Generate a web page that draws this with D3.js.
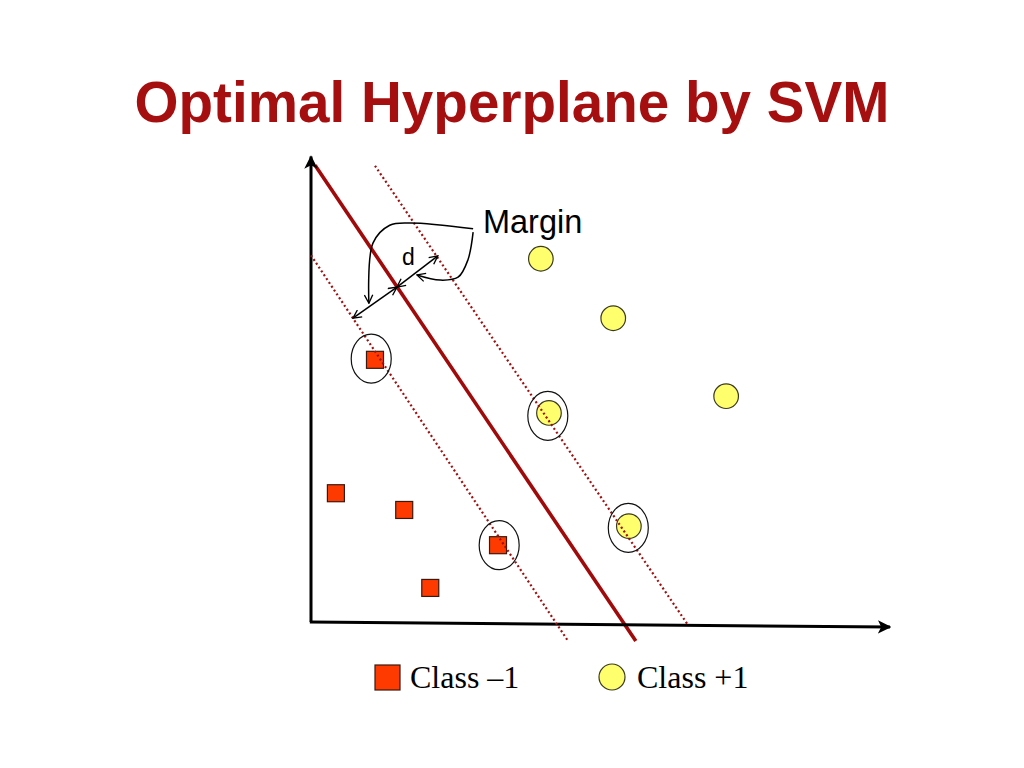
<!DOCTYPE html>
<html>
<head>
<meta charset="utf-8">
<script src="https://cdn.jsdelivr.net/npm/d3@7"></script>
<style>
  html, body { margin: 0; padding: 0; background: #fff; }
  svg { display: block; }
</style>
</head>
<body>
<svg id="chart" width="1024" height="768"></svg>
<script>
// ---- data (abstract feature-space units) ----
const classNeg = [ // Class -1 squares [x, y]
  [11.05, 45.4], [4.3, 22.3], [16.1, 19.4], [32.3, 13.3], [20.6, 5.9]
];
const classPos = [ // Class +1 circles [x, y]
  [39.7, 62.9], [52.2, 52.6], [71.7, 39.1], [41.1, 36.2], [54.9, 16.6]
];
const supportVectors = [ // ellipse centres
  [10.4, 45.6], [32.5, 13.3], [40.9, 35.7], [54.8, 16.3]
];
const hyperplane = [[0.7, 79.1], [56.1, -3.3]];
const marginNeg = [[0.0, 63.5], [44.4, -3.3]];
const marginPos = [[11.05, 79.0], [65.1, -0.5]];
const arrowLeft = [[7.25, 52.6], [14.85, 58.0]];
const arrowRight = [[14.85, 58.0], [21.9, 63.4]];
const braceLeft = [[10.0, 55.2], [10.7, 65.6], [13.6, 68.7], [17.1, 69.1], [28.0, 68.1]];
const braceRight = [[28.0, 67.5], [27.1, 62.7], [25.4, 59.7], [22.3, 59.2], [18.3, 60.1]];
const labels = { title: "Optimal Hyperplane by SVM", margin: "Margin", d: "d", neg: "Class \u20131", pos: "Class +1" };
const labelPos = { margin: [29.7, 67.4], d: [15.7, 61.8] };

// ---- scales ----
const x = d3.scaleLinear().domain([0, 100]).range([311, 890]);
const y = d3.scaleLinear().domain([0, 80]).range([622, 160]);

const svg = d3.select("#chart");
const defs = svg.append("defs");
defs.append("marker").attr("id", "axisArrow")
  .attr("viewBox", "0 0 10 10").attr("refX", 9).attr("refY", 5)
  .attr("markerWidth", 4.5).attr("markerHeight", 4.5).attr("orient", "auto")
  .attr("markerUnits", "strokeWidth")
  .append("path").attr("d", "M0,0 L10,5 L0,10 L2.5,5 Z").attr("fill", "#000");
defs.append("marker").attr("id", "vArrow")
  .attr("viewBox", "0 0 12 12").attr("refX", 11).attr("refY", 6)
  .attr("markerWidth", 10).attr("markerHeight", 10).attr("orient", "auto-start-reverse")
  .attr("markerUnits", "userSpaceOnUse")
  .append("path").attr("d", "M1,1 L11,6 L1,11").attr("fill", "none")
  .attr("stroke", "#000").attr("stroke-width", 1.6);

// title
svg.append("text").attr("x", 512).attr("y", 122).attr("text-anchor", "middle")
  .attr("font-family", "'Liberation Sans', Arial, Helvetica, sans-serif")
  .attr("font-weight", "bold").attr("font-size", 58).attr("fill", "#a50f0f")
  .attr("textLength", 755).attr("lengthAdjust", "spacingAndGlyphs")
  .text(labels.title);

const line = d3.line().x(d => x(d[0])).y(d => y(d[1]));

// hyperplane
svg.append("path").attr("d", line(hyperplane)).attr("fill", "none")
  .attr("stroke", "#a00a0a").attr("stroke-width", 3.6);

// axes
svg.append("path").attr("d", line([[0, 0], [0, 80.6]])).attr("fill", "none")
  .attr("stroke", "#000").attr("stroke-width", 3).attr("marker-end", "url(#axisArrow)");
svg.append("path").attr("d", line([[-0.2, 0], [100, -0.87]])).attr("fill", "none")
  .attr("stroke", "#000").attr("stroke-width", 3).attr("marker-end", "url(#axisArrow)");

// points
const sq = 17;
svg.selectAll("rect.neg").data(classNeg).join("rect").attr("class", "neg")
  .attr("x", d => x(d[0]) - sq / 2).attr("y", d => y(d[1]) - sq / 2)
  .attr("width", sq).attr("height", sq)
  .attr("fill", "#ff3a00").attr("stroke", "#3a1a10").attr("stroke-width", 1.2);
svg.selectAll("circle.pos").data(classPos).join("circle").attr("class", "pos")
  .attr("cx", d => x(d[0])).attr("cy", d => y(d[1])).attr("r", 12.3)
  .attr("fill", "#ffff6e").attr("stroke", "#3a3a20").attr("stroke-width", 1.2);

// dotted margin lines (drawn over the support vectors)
[marginNeg, marginPos].forEach(seg => {
  svg.append("path").attr("d", line(seg)).attr("fill", "none")
    .attr("stroke", "#a01010").attr("stroke-width", 2.2)
    .attr("stroke-dasharray", "2,2.6");
});

// support vector ellipses
svg.selectAll("ellipse.sv").data(supportVectors).join("ellipse").attr("class", "sv")
  .attr("cx", d => x(d[0])).attr("cy", d => y(d[1]))
  .attr("rx", 20).attr("ry", 24.5)
  .attr("fill", "none").attr("stroke", "#111").attr("stroke-width", 1.2);

// margin annotation arrows
[arrowLeft, arrowRight].forEach(seg => {
  svg.append("path").attr("d", line(seg)).attr("fill", "none")
    .attr("stroke", "#000").attr("stroke-width", 1.5)
    .attr("marker-start", "url(#vArrow)").attr("marker-end", "url(#vArrow)");
});
const curve = d3.line().x(d => x(d[0])).y(d => y(d[1])).curve(d3.curveCatmullRom);
svg.append("path").attr("d", curve(braceLeft)).attr("fill", "none")
  .attr("stroke", "#000").attr("stroke-width", 1.5).attr("marker-start", "url(#vArrow)");
svg.append("path").attr("d", curve(braceRight)).attr("fill", "none")
  .attr("stroke", "#000").attr("stroke-width", 1.5).attr("marker-end", "url(#vArrow)");

svg.append("text").attr("x", x(labelPos.margin[0])).attr("y", y(labelPos.margin[1]))
  .attr("font-family", "'Liberation Sans', Arial, sans-serif").attr("font-size", 32.5)
  .attr("fill", "#000").text(labels.margin);
svg.append("text").attr("x", x(labelPos.d[0])).attr("y", y(labelPos.d[1]))
  .attr("font-family", "'Liberation Sans', Arial, sans-serif").attr("font-size", 23)
  .attr("fill", "#000").text(labels.d);

// legend
const lg = svg.append("g");
lg.append("rect").attr("x", 375).attr("y", 665).attr("width", 25).attr("height", 25)
  .attr("fill", "#ff3a00").attr("stroke", "#3a1a10").attr("stroke-width", 1.2);
lg.append("text").attr("x", 410).attr("y", 688)
  .attr("font-family", "'Liberation Serif', 'Times New Roman', serif").attr("font-size", 32)
  .attr("fill", "#000").text(labels.neg);
lg.append("circle").attr("cx", 612).attr("cy", 677).attr("r", 13)
  .attr("fill", "#ffff6e").attr("stroke", "#3a3a20").attr("stroke-width", 1.2);
lg.append("text").attr("x", 637).attr("y", 688)
  .attr("font-family", "'Liberation Serif', 'Times New Roman', serif").attr("font-size", 32)
  .attr("fill", "#000").text(labels.pos);
</script>
</body>
</html>
